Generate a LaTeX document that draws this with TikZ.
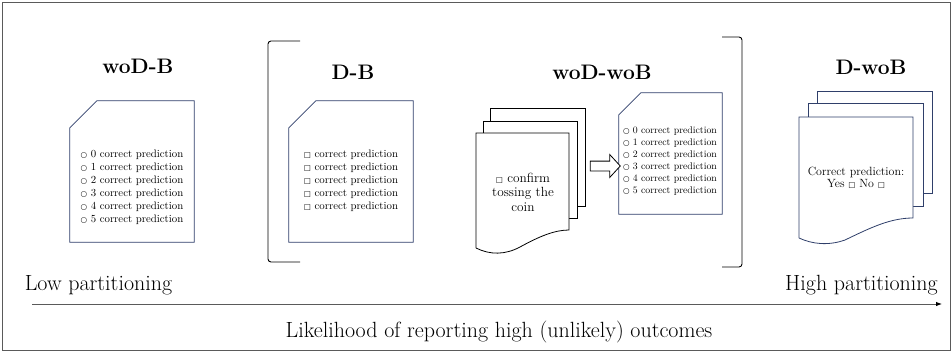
\documentclass[tikz,border=0pt]{standalone}
\usepackage{fontspec}
\usepackage{tikz}
\usetikzlibrary{shapes.arrows,arrows.meta}
\newfontfamily\symfont{DejaVu Sans}
\definecolor{docblue}{HTML}{2F3F6A}
\definecolor{framegray}{HTML}{5A5A5A}
\newcommand{\circopt}{{\symfont\fontsize{7.5}{8}\selectfont ○}}
\newcommand{\sqopt}{{\symfont\fontsize{7.5}{8}\selectfont □}}
% chamfered sheet around an empty node
\newcommand{\chamfersheet}[2]{\draw[doc-line] ([yshift=-#2]#1.north west) -- ([xshift=#2]#1.north west) -- (#1.north east) -- (#1.south east) -- (#1.south west) -- cycle;}
\tikzset{
    doc-box/.style = {rectangle, inner sep=0pt},
    doc-line/.style = {draw=docblue, line width=0.8pt, fill=white},
    stack-line/.style = {draw=black, line width=0.8pt, fill=white},
    sheet-title/.style = {font=\fontsize{21}{24}\selectfont\bfseries},
    list-text/.style = {align=left, inner sep=0pt, font=\fontsize{10.8}{13}\selectfont},
    small-list-text/.style = {align=left, inner sep=0pt, font=\fontsize{9.8}{12}\selectfont},
    sheet-text/.style = {align=center, inner sep=0pt, font=\fontsize{13.3}{14.5}\selectfont},
    end-label/.style = {inner sep=0pt, font=\fontsize{22}{24}\selectfont},
}

\begin{document}
\begin{tikzpicture}[x=1pt, y=-1pt]
\useasboundingbox (0,0) rectangle (952,362);
\draw[framegray, line width=0.9pt] (2,2) rectangle (950.5,350.5);

% woD-B
\node[sheet-title] (wodb-title) at (138,66) {woD-B};
\node[doc-box, minimum width=124pt, minimum height=141pt] (wodb) at (132,171.5) {};
\chamfersheet{wodb}{27pt}
\node[list-text] (wodb-list) at (132,187) {\circopt\ 0 correct prediction\\ \circopt\ 1 correct prediction\\ \circopt\ 2 correct prediction\\ \circopt\ 3 correct prediction\\ \circopt\ 4 correct prediction\\ \circopt\ 5 correct prediction};

% brackets
\draw[line width=0.9pt, rounded corners=3pt] (300,41) -- (268,41) -- (268,262) -- (300,262);
\draw[line width=0.9pt, rounded corners=3pt] (722,37) -- (742,37) -- (742,267) -- (722,267);

% D-B
\node[sheet-title] (db-title) at (353,72) {D-B};
\node[doc-box, minimum width=124pt, minimum height=141pt] (db) at (351,171.5) {};
\chamfersheet{db}{27pt}
\node[list-text] (db-list) at (351,180.5) {\sqopt\ correct prediction\\ \sqopt\ correct prediction\\ \sqopt\ correct prediction\\ \sqopt\ correct prediction\\ \sqopt\ correct prediction};

% woD-woB
\node[sheet-title] (wodwob-title) at (602,72) {woD-woB};
\draw[stack-line] (490,108) rectangle (585,206);
\draw[stack-line] (483,121) rectangle (577,218);
\draw[stack-line] (476,248) -- (476,133) -- (569,133) -- (569,230)
    .. controls (555,230) and (540,236) .. (520,247)
    .. controls (505,255) and (490,255) .. (476,248);
\node[sheet-text] (toss) at (523,192) {\sqopt\ confirm\\tossing the\\coin};
\node[doc-box, minimum width=103pt, minimum height=121pt] (wodwob) at (670.5,153.5) {};
\chamfersheet{wodwob}{22pt}
\node[small-list-text] (wodwob-list) at (670,161) {\circopt\ 0 correct prediction\\ \circopt\ 1 correct prediction\\ \circopt\ 2 correct prediction\\ \circopt\ 3 correct prediction\\ \circopt\ 4 correct prediction\\ \circopt\ 5 correct prediction};
\node[single arrow, draw, line width=0.8pt, fill=white, inner sep=4.5pt, minimum height=30pt,
      single arrow head extend=6.5pt, single arrow tip angle=95] (toss-arrow) at (603,166) {};

% D-woB
\node[sheet-title] (dwob-title) at (871,67) {D-woB};
\draw[doc-line] (817,91) rectangle (932,193);
\draw[doc-line] (808,103) rectangle (923,206);
\draw[doc-line] (799,238) -- (799,117) -- (913,117) -- (913,218)
    .. controls (890,218) and (870,228) .. (845,240)
    .. controls (828,246) and (812,244) .. (799,238);
\node[sheet-text, font=\fontsize{11.9}{12.5}\selectfont] (dwob-text) at (856,178) {Correct prediction:\\Yes \sqopt\ No \sqopt};

% axis
\node[end-label] (low) at (98.5,285) {Low partitioning};
\node[end-label] (high) at (861.5,285) {High partitioning};
\coordinate (axis-start) at (32,304);
\coordinate (axis-end) at (942,304);
\draw[framegray, line width=0.9pt, -{Latex[black, length=6pt, width=4.5pt]}] (axis-start) -- (axis-end);
\node[end-label] (likely) at (499,332) {Likelihood of reporting high (unlikely) outcomes};
\end{tikzpicture}
\end{document}
